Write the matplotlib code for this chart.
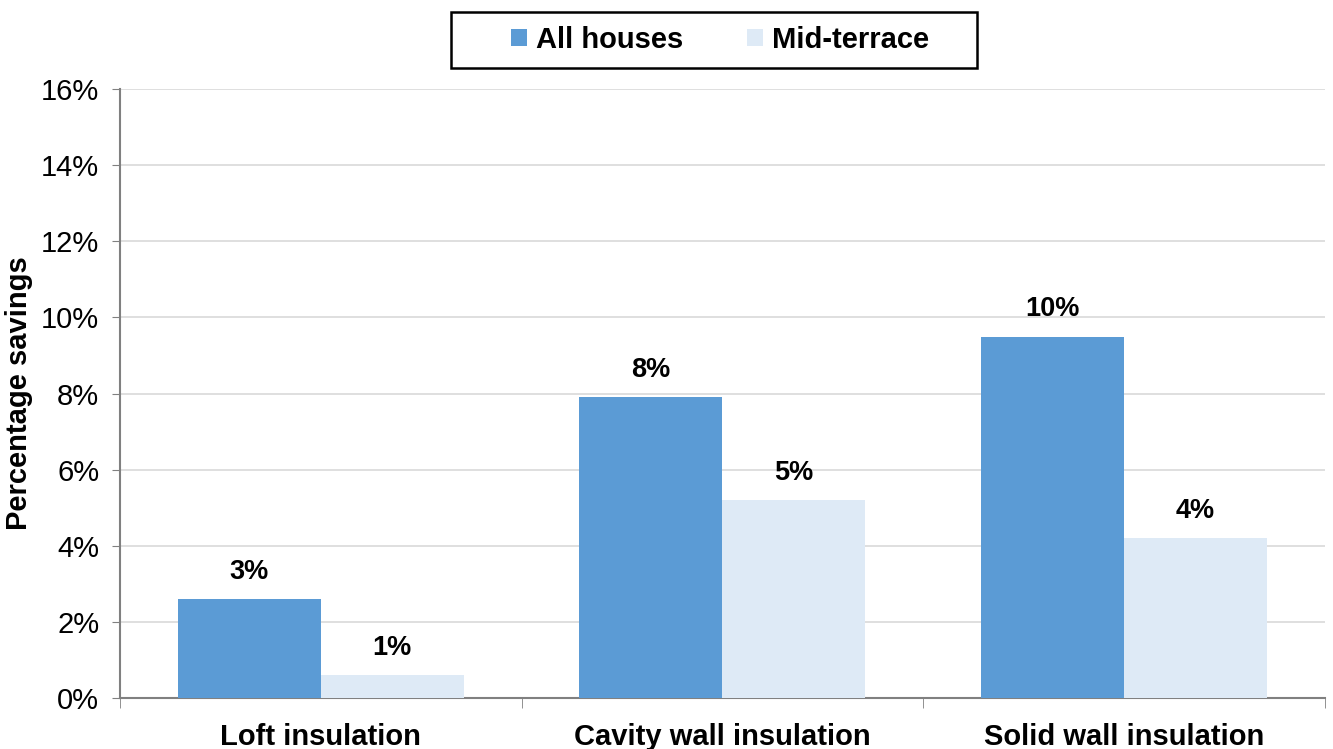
#!/usr/bin/env python3
"""Percentage savings by insulation measure: all houses vs mid-terrace."""
import numpy as np
import matplotlib
matplotlib.use("Agg")
import matplotlib.pyplot as plt
from matplotlib.patches import Rectangle
from matplotlib.ticker import FuncFormatter

plt.rcParams["font.family"] = ["Liberation Sans", "DejaVu Sans"]

categories = ["Loft insulation", "Cavity wall insulation", "Solid wall insulation"]
all_houses = [2.6, 7.9, 9.5]
mid_terrace = [0.6, 5.2, 4.2]
all_labels = ["3%", "8%", "10%"]
mid_labels = ["1%", "5%", "4%"]
yticks = [0, 2, 4, 6, 8, 10, 12, 14, 16]

fig = plt.figure(figsize=(13.33, 7.49), dpi=100)
ax = fig.add_axes([0.090, 0.068, 0.904, 0.813])

x = np.arange(len(categories))
width = 0.356
b1 = ax.bar(x - width / 2, all_houses, width, color="#5B9BD5", label="All houses", zorder=3)
b2 = ax.bar(x + width / 2, mid_terrace, width, color="#DEEAF6", label="Mid-terrace", zorder=3)

for bars, labs in [(b1, all_labels), (b2, mid_labels)]:
    for bar, lab in zip(bars, labs):
        ax.text(bar.get_x() + bar.get_width() / 2, bar.get_height() + 0.38, lab,
                ha="center", va="bottom", fontsize=19.5, fontweight="bold")

ax.set_xlim(-0.5, len(categories) - 0.5)
ax.set_ylim(0, 16)
ax.set_yticks(yticks)
ax.yaxis.set_major_formatter(FuncFormatter(lambda v, _: f"{v:.0f}%"))
ax.tick_params(axis="y", labelsize=21, length=6, color="#808080", pad=9)

ax.set_xticks(x)
ax.set_xticklabels(categories, fontsize=21, fontweight="bold")
ax.set_xticks(np.arange(-0.5, len(categories)), minor=True)
ax.tick_params(axis="x", which="major", length=0, pad=18)
ax.tick_params(axis="x", which="minor", length=7, color="#808080")

ax.grid(axis="y", color="#D9D9D9", linewidth=1.2, zorder=0)
for s in ["top", "right"]:
    ax.spines[s].set_visible(False)
for s in ["left", "bottom"]:
    ax.spines[s].set_color("#808080")
    ax.spines[s].set_linewidth(1.5)

ax.set_ylabel("Percentage savings", fontsize=21, fontweight="bold")
ax.yaxis.set_label_coords(-0.072, 0.5)

# legend entries without frame, box drawn separately (wider padding like Excel)
leg = ax.legend(loc="center", bbox_to_anchor=(0.498, 1.081), ncol=2, frameon=False,
                handlelength=0.55, handleheight=0.55, handletextpad=0.3,
                columnspacing=2.2, borderpad=0.5, borderaxespad=0,
                prop={"size": 21, "weight": "bold"})
fig.patches.append(Rectangle((0.3383, 0.9092), 0.3946, 0.0748, transform=fig.transFigure,
                             fill=False, edgecolor="black", linewidth=1.8))

fig.savefig("out.png", dpi=100)
